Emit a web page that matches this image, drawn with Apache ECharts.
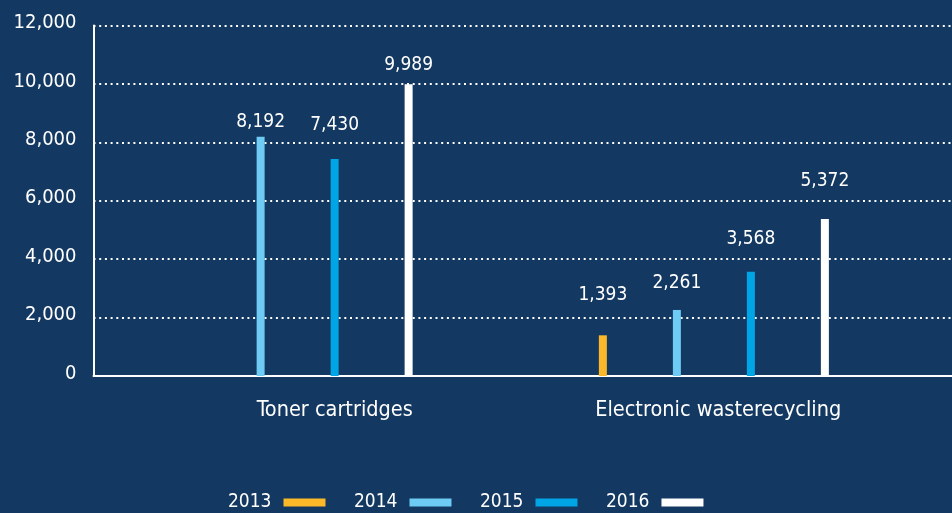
<!DOCTYPE html>
<html>
<head>
<meta charset="utf-8">
<script src="https://cdn.jsdelivr.net/npm/echarts@6/dist/echarts.min.js"></script>
<style>
  html, body { margin: 0; padding: 0; background: #133861; }
  #chart { width: 952px; height: 513px; }
</style>
</head>
<body>
<div id="chart"></div>
<script>
// Collected items per year (units)
const categories = ['Toner cartridges', 'Electronic wasterecycling'];
const years = ['2013', '2014', '2015', '2016'];
const values2013 = [null, 1393];
const values2014 = [8192, 2261];
const values2015 = [7430, 3568];
const values2016 = [9989, 5372];
const yTicks = [0, 2000, 4000, 6000, 8000, 10000, 12000];

// Extra lift of each value label above its bar, in px
const labelLift2013 = [0, 26];
const labelLift2014 = [0, 12];
const labelLift2015 = [19, 18];
const labelLift2016 = [5, 24];

const colors = ['#fbb829', '#6dcbf4', '#00a5e6', '#ffffff'];
const FONT = '"Liberation Sans Narrow", "DejaVu Sans Condensed", "Roboto", sans-serif';

const yMin = yTicks[0];
const yMax = yTicks[yTicks.length - 1];
const yStep = yTicks[1] - yTicks[0];

const fmt = v => v.toLocaleString('en-US');

const plotTop = 25.5;
const plotBottom = 513 - 376;

function makeSeries(name, vals, lifts, color) {
  return {
    name: name,
    type: 'bar',
    xAxisIndex: 1,
    yAxisIndex: 1,
    barWidth: 8,
    barGap: '825%',
    itemStyle: { color: color },
    data: vals.map((v, i) => ({
      value: v === null ? '-' : v,
      label: { offset: [0, -lifts[i]] }
    })),
    label: {
      show: true,
      position: 'top',
      distance: 5,
      color: '#ffffff',
      fontFamily: FONT,
      fontSize: 19,
      formatter: p => fmt(p.value)
    }
  };
}

const chart = echarts.init(document.getElementById('chart'), null, { renderer: 'canvas' });
chart.setOption({
  backgroundColor: '#133861',
  animation: false,
  color: colors,
  grid: [
    // frame: y axis, dotted split lines and base line
    { left: 93.5, right: 0, top: plotTop, bottom: plotBottom },
    // bars
    { left: 89.5, right: 30, top: plotTop, bottom: plotBottom },
    // category labels
    { left: 143, right: 42, top: plotTop, bottom: plotBottom }
  ],
  xAxis: [
    {
      gridIndex: 0, type: 'category', data: categories,
      axisLine: { show: true, lineStyle: { color: '#ffffff', width: 2 } },
      axisTick: { show: false }, axisLabel: { show: false }, splitLine: { show: false }
    },
    {
      gridIndex: 1, type: 'category', data: categories,
      axisLine: { show: false }, axisTick: { show: false }, axisLabel: { show: false }
    },
    {
      gridIndex: 2, type: 'category', data: categories,
      axisLine: { show: false }, axisTick: { show: false },
      axisLabel: { show: true, color: '#ffffff', fontFamily: FONT, fontSize: 21.5, margin: 23 }
    }
  ],
  yAxis: [
    {
      gridIndex: 0, type: 'value', min: yMin, max: yMax, interval: yStep,
      axisLine: { show: true, lineStyle: { color: '#ffffff', width: 2 } },
      axisTick: { show: false },
      axisLabel: {
        color: '#ffffff', fontFamily: FONT, fontSize: 20, margin: 17,
        verticalAlign: 'bottom', lineHeight: 5,
        formatter: v => fmt(v)
      },
      splitLine: { show: true, lineStyle: { color: '#ffffff', width: 2, type: [2, 3.7] } }
    },
    { gridIndex: 1, type: 'value', min: yMin, max: yMax, interval: yStep, show: false, splitLine: { show: false } },
    { gridIndex: 2, type: 'value', min: yMin, max: yMax, interval: yStep, show: false, splitLine: { show: false } }
  ],
  legend: {
    left: 223,
    top: 488,
    align: 'right',
    itemWidth: 42,
    itemHeight: 8,
    itemGap: 28.5,
    icon: 'rect',
    data: years,
    textStyle: { color: '#ffffff', fontFamily: FONT, fontSize: 19, padding: [0, 7, 0, 0] }
  },
  series: [
    makeSeries(years[0], values2013, labelLift2013, colors[0]),
    makeSeries(years[1], values2014, labelLift2014, colors[1]),
    makeSeries(years[2], values2015, labelLift2015, colors[2]),
    makeSeries(years[3], values2016, labelLift2016, colors[3])
  ]
});
</script>
</body>
</html>
